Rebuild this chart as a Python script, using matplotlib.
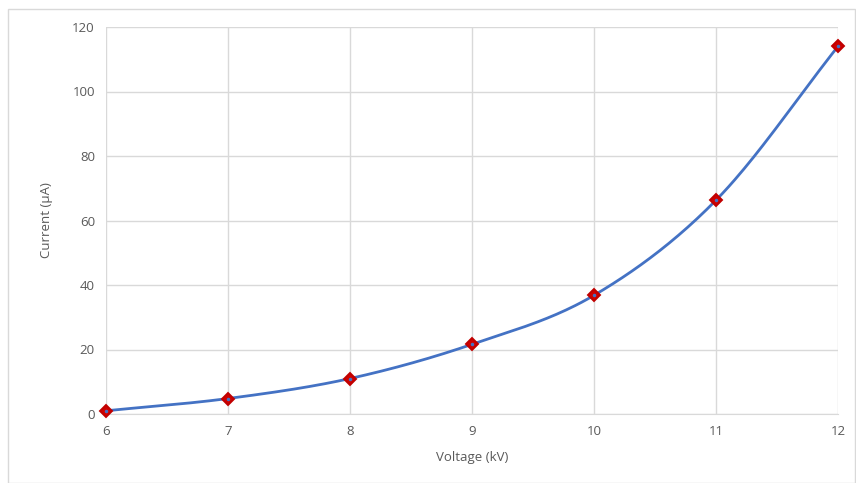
import numpy as np
import matplotlib.pyplot as plt
from matplotlib.patches import Rectangle

# Voltage (kV) vs current (uA)
voltage = [6, 7, 8, 9, 10, 11, 12]
current = [1.0, 4.8, 11.0, 21.6, 36.8, 66.3, 114.0]


def smooth_curve(x, y, n=40):
    # Catmull-Rom style smoothing, similar to a spreadsheet "smoothed line"
    x = np.asarray(x, float)
    y = np.asarray(y, float)
    px = np.concatenate([[2 * x[0] - x[1]], x, [2 * x[-1] - x[-2]]])
    py = np.concatenate([[2 * y[0] - y[1]], y, [2 * y[-1] - y[-2]]])
    xs, ys = [], []
    t = np.linspace(0, 1, n)
    for i in range(1, len(px) - 2):
        for arr, out in ((px, xs), (py, ys)):
            p0, p1, p2, p3 = arr[i - 1], arr[i], arr[i + 1], arr[i + 2]
            out.extend(0.5 * ((2 * p1) + (-p0 + p2) * t
                              + (2 * p0 - 5 * p1 + 4 * p2 - p3) * t ** 2
                              + (-p0 + 3 * p1 - 3 * p2 + p3) * t ** 3))
    return np.array(xs), np.array(ys)


plt.rcParams['font.family'] = ['Open Sans', 'DejaVu Sans']
fig = plt.figure(figsize=(8.56, 4.83), dpi=100)
ax = fig.add_axes([106 / 856, 1 - 414 / 483, 732 / 856, 387 / 483])

# outer chart border
fig.patches.append(Rectangle((8 / 856, 0), 847 / 856, 1 - 9 / 483, transform=fig.transFigure,
                             fill=False, edgecolor='#d9d9d9', linewidth=1))

sx, sy = smooth_curve(voltage, current)
ax.plot(sx, sy, color='#4472c4', linewidth=2, zorder=3, clip_on=False)
ax.plot(voltage, current, linestyle='none', marker='D', markersize=6.5,
        markerfacecolor='#d00000', markeredgecolor='#c00000', markeredgewidth=1.4,
        zorder=4, clip_on=False)
ax.plot(voltage, current, linestyle='none', marker='o', markersize=1.5,
        color='#4472c4', zorder=5, clip_on=False)

ax.set_xlim(6, 12)
ax.set_ylim(0, 120)
ax.set_xticks(range(6, 13))
ax.set_yticks(range(0, 121, 20))
ax.grid(True, color='#d9d9d9', linewidth=1)
ax.set_axisbelow(True)
for s in ['top', 'right', 'left']:
    ax.spines[s].set_visible(False)
ax.spines['bottom'].set_color('#d9d9d9')
ax.tick_params(length=0, labelsize=9.5, labelcolor='#595959', pad=8)

ax.set_xlabel('Voltage (kV)', fontsize=9.5, color='#595959', labelpad=9)
ax.set_ylabel('Current (µA)', fontsize=9.5, color='#595959', labelpad=14)

fig.savefig('out.png', dpi=100)
